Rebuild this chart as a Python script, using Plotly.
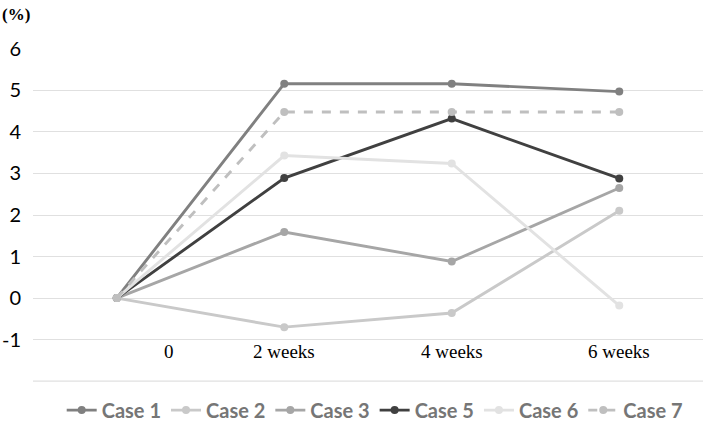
import plotly.graph_objects as go

# ── Data ──────────────────────────────────────────────────────────────────────
x_pos = [0, 1, 2, 3]
x_labels = ["0", "2 weeks", "4 weeks", "6 weeks"]
x_label_pos = [0.31, 1, 2, 3]

case_1 = [0, 5.16, 5.16, 4.97]
case_2 = [0, -0.70, -0.36, 2.10]
case_3 = [0, 1.59, 0.88, 2.65]
case_5 = [0, 2.89, 4.32, 2.88]
case_6 = [0, 3.43, 3.24, -0.18]
case_7 = [0, 4.48, 4.48, 4.48]

y_ticks = [-2, -1, 0, 1, 2, 3, 4, 5, 6]
y_ticktext = ["", "-1", "0", "1", "2", "3", "4", "5", "6"]

series = [
    ("Case 1", case_1, "#808080", "solid"),
    ("Case 2", case_2, "#c9c9c9", "solid"),
    ("Case 3", case_3, "#a6a6a6", "solid"),
    ("Case 5", case_5, "#404040", "solid"),
    ("Case 6", case_6, "#e2e2e2", "solid"),
    ("Case 7", case_7, "#bfbfbf", "dash"),
]

fig = go.Figure()
for name, vals, color, dash in series:
    fig.add_trace(go.Scatter(
        x=x_pos, y=vals,
        mode="lines+markers",
        name=name,
        line=dict(color=color, width=2.9, dash=dash),
        marker=dict(color=color, size=8),
    ))

# bottom gridline (unlabelled)
fig.add_hline(y=y_ticks[0], line_color="#e0e0e0", line_width=1.3, layer="below")

# category labels sit inside the plot, just under the -1 gridline
for xp, txt in zip(x_label_pos, x_labels):
    fig.add_annotation(
        x=xp, y=-1.29, text=txt, showarrow=False,
        xref="x", yref="y",
        font=dict(family="Liberation Serif", size=19, color="#000000"),
    )

fig.add_annotation(
    x=-0.049, y=1.099, text="<b>(%)</b>", showarrow=False,
    xref="paper", yref="paper", xanchor="left", yanchor="middle",
    font=dict(family="Liberation Serif", size=17, color="#000000"),
)

fig.update_layout(
    width=709, height=429,
    margin=dict(l=33, r=6, t=48, b=47, autoexpand=False),
    plot_bgcolor="#FFFFFF",
    paper_bgcolor="#FFFFFF",
    showlegend=True,
    legend=dict(
        orientation="h", x=0.51, xanchor="center",
        yref="container", y=0.044, yanchor="middle",
        font=dict(family="Lato", size=20, color="#767676", weight="bold"),
        itemwidth=30, bgcolor="rgba(0,0,0,0)",
    ),
    xaxis=dict(
        range=[-0.5, 3.5], showgrid=False, zeroline=False,
        showticklabels=False, showline=False, automargin=False,
    ),
    yaxis=dict(
        range=[-2.02, 6.02], tickvals=y_ticks, ticktext=y_ticktext,
        showgrid=True, gridcolor="#e0e0e0", gridwidth=1.3,
        zeroline=False, showline=False, ticklabelstandoff=11,
        automargin=False,
        tickfont=dict(family="Lato", size=20, color="#000000"),
    ),
)

# drop the default body margin so the figure fills the window exactly
fig.write_html(
    "out.html",
    config={"displayModeBar": False},
    post_script="document.body.style.margin='0';",
)
